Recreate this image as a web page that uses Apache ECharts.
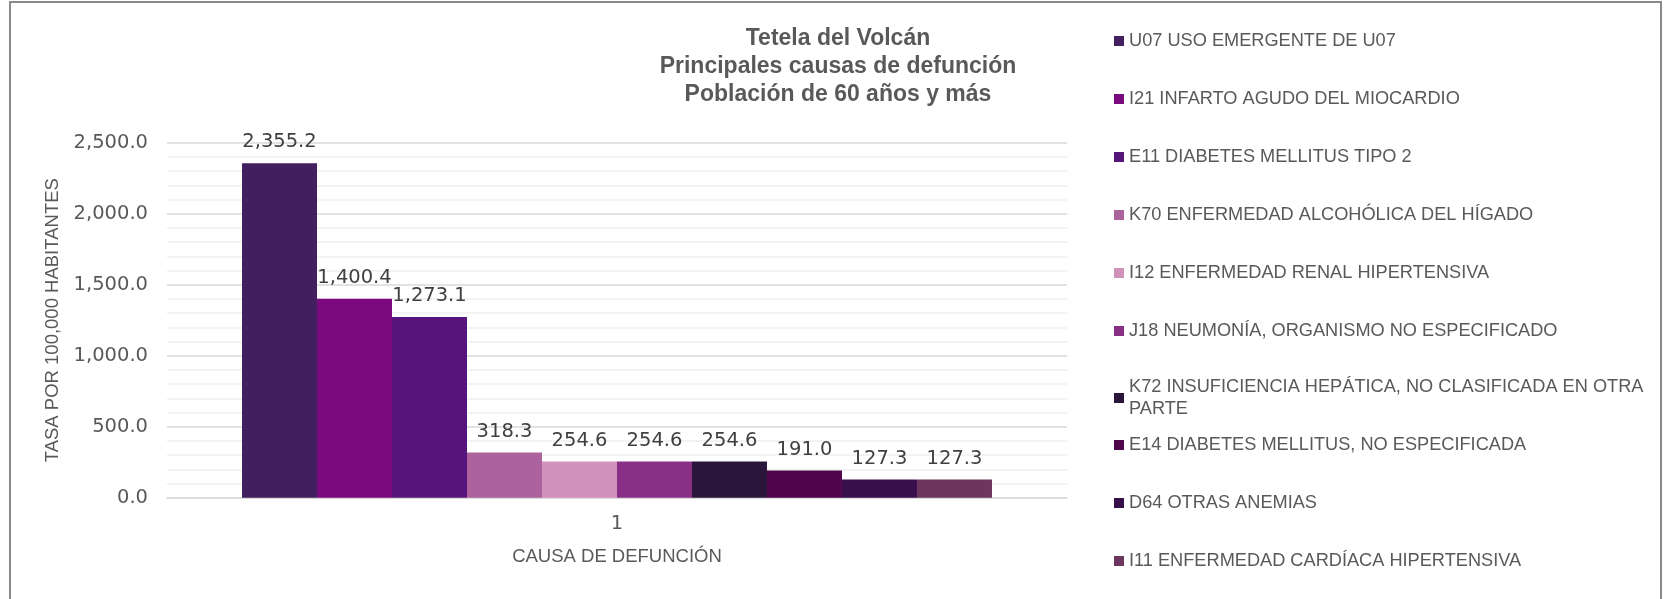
<!DOCTYPE html>
<html>
<head>
<meta charset="utf-8">
<script src="https://cdn.jsdelivr.net/npm/echarts@6/dist/echarts.min.js"></script>
<style>
html,body{margin:0;padding:0;background:#fff;}
#chart{width:1665px;height:599px;}
</style>
</head>
<body>
<div id="chart"></div>
<script>
const titleLines = ['Tetela del Volcán', 'Principales causas de defunción', 'Población de 60 años y más'];
const categories = ['1'];
const causes = [
  'U07 USO EMERGENTE DE U07',
  'I21 INFARTO AGUDO DEL MIOCARDIO',
  'E11 DIABETES MELLITUS TIPO 2',
  'K70 ENFERMEDAD ALCOHÓLICA DEL HÍGADO',
  'I12 ENFERMEDAD RENAL HIPERTENSIVA',
  'J18 NEUMONÍA, ORGANISMO NO ESPECIFICADO',
  'K72 INSUFICIENCIA HEPÁTICA, NO CLASIFICADA EN OTRA PARTE',
  'E14 DIABETES MELLITUS, NO ESPECIFICADA',
  'D64 OTRAS ANEMIAS',
  'I11 ENFERMEDAD CARDÍACA HIPERTENSIVA'
];
const values = [2355.2, 1400.4, 1273.1, 318.3, 254.6, 254.6, 254.6, 191.0, 127.3, 127.3];
const colors = ['#421f5f', '#7a0a7e', '#56157a', '#ab629d', '#d092ba', '#873085', '#2a163b', '#50064b', '#380e4b', '#6c365f'];
const yAxisName = 'TASA POR 100,000 HABITANTES';
const xAxisName = 'CAUSA DE DEFUNCIÓN';

const FONT = '"Liberation Sans", Arial, sans-serif';
const NUMFONT = '"DejaVu Sans", sans-serif';
const LEG_FS = 18.2;
const fmt = v => Number(v).toLocaleString('en-US', {minimumFractionDigits: 1, maximumFractionDigits: 1});

// word-wrap legend names to a maximum pixel width
const measureCtx = document.createElement('canvas').getContext('2d');
measureCtx.font = LEG_FS + 'px ' + FONT;
function wrap(text, maxW) {
  const words = text.split(' ');
  const lines = [];
  let cur = '';
  words.forEach(w => {
    const t = cur ? cur + ' ' + w : w;
    if (cur && measureCtx.measureText(t).width > maxW) { lines.push(cur); cur = w; }
    else cur = t;
  });
  if (cur) lines.push(cur);
  return lines.join('\n');
}

const legendText = {color: '#595959', fontSize: LEG_FS, fontFamily: FONT, lineHeight: 22};
const legendBase = {
  orient: 'vertical', left: 1109, itemWidth: 10, itemHeight: 10, itemGap: 36,
  icon: 'rect', textStyle: legendText, selectedMode: false,
  formatter: name => wrap(name, 530)
};

const chart = echarts.init(document.getElementById('chart'), null, {renderer: 'canvas'});
chart.setOption({
  animation: false,
  backgroundColor: '#fff',
  title: {
    text: titleLines.join('\n'),
    left: 833, top: 20, textAlign: 'center',
    textStyle: {color: '#595959', fontSize: 23, fontWeight: 'bold', fontFamily: FONT, lineHeight: 28}
  },
  graphic: [{
    type: 'rect', silent: true, z: -1,
    shape: {x: 10, y: 2, width: 1651, height: 640},
    style: {fill: null, stroke: '#8a8a8a', lineWidth: 2}
  }],
  legend: [
    Object.assign({}, legendBase, {top: 25, data: causes.slice(0, 6)}),
    Object.assign({}, legendBase, {top: 360, data: [{
      name: causes[6],
      textStyle: {padding: [22, 0, 0, 0]}
    }]}),
    Object.assign({}, legendBase, {top: 429, data: causes.slice(7)})
  ],
  grid: {left: 167, right: 598, top: 142.7, bottom: 101.3, containLabel: false},
  xAxis: {
    type: 'category', data: categories,
    name: xAxisName, nameLocation: 'middle', nameGap: 50,
    nameTextStyle: {color: '#595959', fontSize: 18.5, fontFamily: FONT},
    axisLine: {show: true, lineStyle: {color: '#d9d9d9', width: 1.5}},
    axisTick: {show: false},
    axisLabel: {color: '#595959', fontSize: 19.5, fontFamily: NUMFONT, margin: 16}
  },
  yAxis: {
    type: 'value', min: 0, max: 2500, interval: 500,
    name: yAxisName, nameLocation: 'middle', nameGap: 103, nameRotate: 90,
    nameTextStyle: {color: '#595959', fontSize: 18.5, fontFamily: FONT},
    axisLine: {show: false}, axisTick: {show: false},
    axisLabel: {color: '#595959', fontSize: 19.5, fontFamily: NUMFONT, margin: 19, formatter: fmt},
    splitLine: {show: true, lineStyle: {color: '#d9d9d9', width: 1.5}},
    minorTick: {show: false, splitNumber: 5},
    minorSplitLine: {show: true, lineStyle: {color: '#f0f0f0', width: 1.5}}
  },
  series: causes.map((name, i) => ({
    type: 'bar', name: name,
    data: [values[i]],
    itemStyle: {color: colors[i]},
    barGap: '0%', barCategoryGap: '16.67%',
    label: {
      show: true, position: 'top', distance: 11,
      color: '#404040', fontSize: 19.5, fontFamily: NUMFONT, formatter: p => fmt(p.value)
    }
  }))
});
</script>
</body>
</html>
